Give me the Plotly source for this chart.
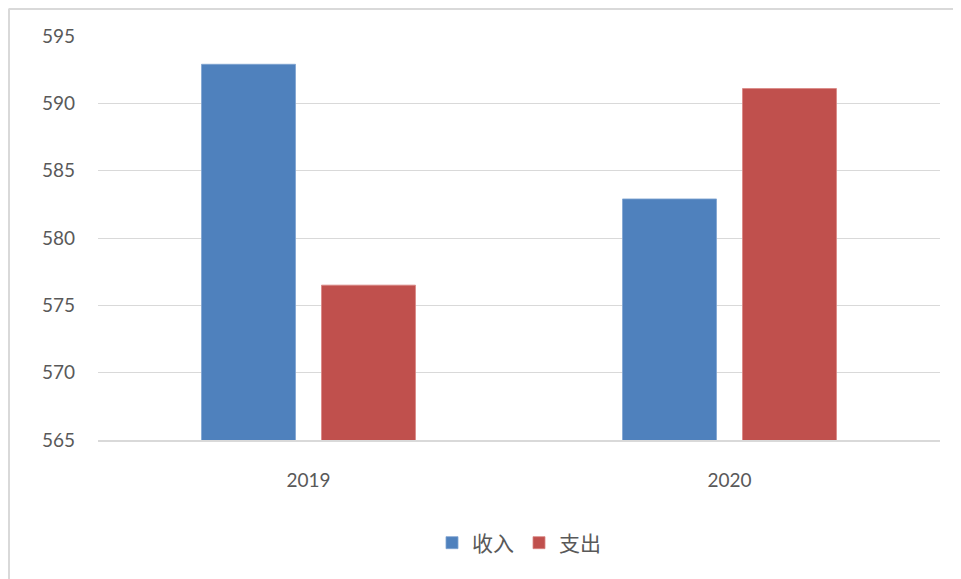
import plotly.graph_objects as go

categories = ["2019", "2020"]
income = [592.9, 582.9]
expense = [576.5, 591.1]
series_names = ["收入", "支出"]
y_ticks = [565, 570, 575, 580, 585, 590, 595]

fig = go.Figure()
fig.add_trace(go.Bar(x=categories, y=income, name=series_names[0],
                     marker=dict(color="#4F81BD", line=dict(color="#7FA3D0", width=0.8))))
fig.add_trace(go.Bar(x=categories, y=expense, name=series_names[1],
                     marker=dict(color="#C0504D", line=dict(color="#D98583", width=0.8))))

PW, PH = 842, 404  # plot area px
def px_x(ax):  # absolute page x -> paper
    return (ax - 98) / PW
def px_y(ay):  # absolute page y -> paper
    return (440 - ay) / PH

fig.update_layout(
    width=953, height=571,
    margin=dict(l=90, r=21, t=28, b=139),
    paper_bgcolor="white", plot_bgcolor="white",
    barmode="group", bargap=0.43, bargroupgap=0.2167,
    font=dict(family="Lato, 'Noto Sans CJK SC'", color="#595959", size=19),
    showlegend=True,
    legend=dict(orientation="h", x=0.5, xanchor="center", y=-0.255, yanchor="middle",
                font=dict(family="'Noto Sans CJK SC'", size=21, color="#595959"),
                itemwidth=30, traceorder="normal"),
    shapes=[
        dict(type="line", xref="paper", yref="paper",
             x0=px_x(8.5), x1=px_x(961), y0=px_y(9), y1=px_y(9),
             line=dict(color="#D9D9D9", width=2), layer="below"),
        dict(type="line", xref="paper", yref="paper",
             x0=px_x(9), x1=px_x(9), y0=px_y(9), y1=px_y(579),
             line=dict(color="#D9D9D9", width=2), layer="below"),
    ],
)
fig.update_yaxes(range=[565, 595], tickvals=y_ticks, showgrid=True, gridcolor="#D9D9D9",
                 gridwidth=1, zeroline=False, showline=False, ticklabelstandoff=22,
                 tickfont=dict(size=19, color="#595959"))
fig.update_xaxes(showline=True, linecolor="#D9D9D9", linewidth=1.5, ticklabelstandoff=22,
                 tickfont=dict(size=19, color="#595959"))

fig.write_html("out.html")
